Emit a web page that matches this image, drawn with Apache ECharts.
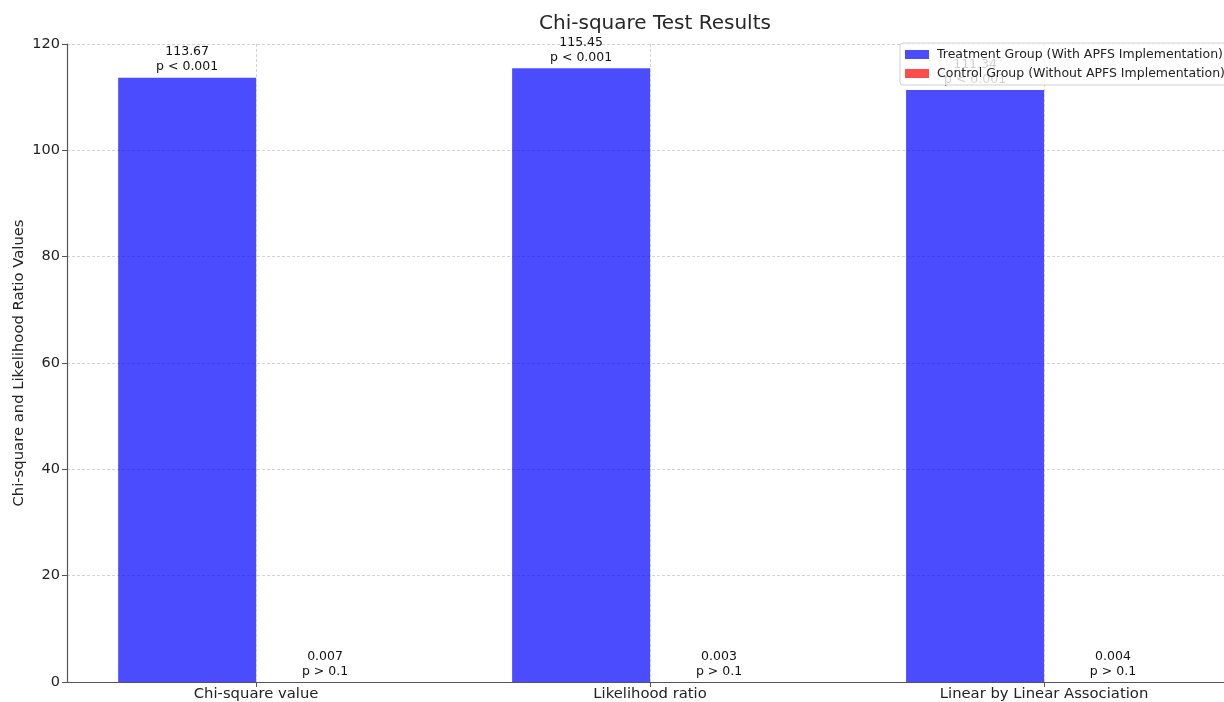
<!DOCTYPE html>
<html>
<head>
<meta charset="utf-8">
<script src="https://cdn.jsdelivr.net/npm/echarts@6/dist/echarts.min.js"></script>
<style>
  html, body { margin: 0; padding: 0; background: #fff; }
  #chart { width: 1224px; height: 702px; }
</style>
</head>
<body>
<div id="chart"></div>
<script>
// Test categories and statistic values
const categories = ['Chi-square value', 'Likelihood ratio', 'Linear by Linear Association'];
const treatmentValues = [113.67, 115.45, 111.34];
const controlValues = [0.007, 0.003, 0.004];
const treatmentP = ['p < 0.001', 'p < 0.001', 'p < 0.001'];
const controlP = ['p > 0.1', 'p > 0.1', 'p > 0.1'];
const yTicks = [0, 20, 40, 60, 80, 100, 120];

const seriesNames = [
  'Treatment Group (With APFS Implementation)',
  'Control Group (Without APFS Implementation)'
];
const halfBar = 0.175; // half of the 0.35 bar width, in category units
const font = 'DejaVu Sans, sans-serif';

function barData(values, pLabels, offset) {
  return values.map((v, i) => ({
    value: [i + offset, v],
    label: { formatter: v + '\n' + pLabels[i] }
  }));
}

const chart = echarts.init(document.getElementById('chart'));
chart.setOption({
  animation: false,
  backgroundColor: '#fff',
  textStyle: { fontFamily: font },
  title: {
    text: 'Chi-square Test Results',
    left: 650, top: 9,
    textAlign: 'center',
    textStyle: { fontFamily: font, fontSize: 20, fontWeight: 'normal', color: '#262626' }
  },
  legend: {
    data: seriesNames,
    orient: 'vertical',
    left: 900, top: 43,
    itemWidth: 24, itemHeight: 9, itemGap: 6,
    padding: [5, 6, 5, 5],
    icon: 'rect',
    backgroundColor: 'rgba(255,255,255,0.8)',
    borderColor: '#d0d0d0', borderWidth: 1, borderRadius: 3,
    textStyle: { fontFamily: font, fontSize: 12.5, color: '#222', padding: [0, 0, 0, 3] },
    z: 10
  },
  grid: { left: 67, right: 0, top: 44, bottom: 19, containLabel: false },
  xAxis: {
    type: 'value',
    min: -0.48, max: 2 + 180 / 394,
    axisLine: { show: true, onZero: false, lineStyle: { color: '#555', width: 1.2 } },
    axisTick: { show: true, customValues: [0, 1, 2], length: 5, lineStyle: { color: '#555' } },
    axisLabel: {
      customValues: [0, 1, 2],
      formatter: v => categories[Math.round(v)],
      fontFamily: font, fontSize: 14.8, color: '#222', margin: 5
    },
    splitLine: { show: false }
  },
  yAxis: {
    type: 'value',
    min: yTicks[0], max: yTicks[yTicks.length - 1], interval: 20,
    name: 'Chi-square and Likelihood Ratio Values',
    nameLocation: 'middle', nameGap: 40, nameMoveOverlap: false,
    nameTextStyle: { fontFamily: font, fontSize: 14.8, color: '#222' },
    axisLine: { show: true, onZero: false, lineStyle: { color: '#555', width: 1.2 } },
    axisTick: { show: true, length: 5, lineStyle: { color: '#555' } },
    axisLabel: { fontFamily: font, fontSize: 14.5, color: '#222', margin: 7 },
    splitLine: { show: true, lineStyle: { color: '#c8c8c8', type: [3, 2], width: 0.8 } }
  },
  series: [
    {
      // vertical grid lines at the category positions
      type: 'line', data: [], z: 1, silent: true,
      markLine: {
        symbol: 'none', silent: true, label: { show: false },
        lineStyle: { color: '#c8c8c8', type: [3, 2], width: 0.8 },
        data: categories.map((c, i) => ({ xAxis: i }))
      }
    },
    {
      name: seriesNames[0],
      type: 'bar',
      barWidth: 138, barGap: '-100%',
      itemStyle: { color: 'rgba(0,0,255,0.7)' },
      data: barData(treatmentValues, treatmentP, -halfBar),
      label: {
        show: true, position: 'top', distance: 3,
        fontFamily: font, fontSize: 12.5, color: '#111', lineHeight: 15, align: 'center'
      },
      z: 2
    },
    {
      name: seriesNames[1],
      type: 'bar',
      barWidth: 138, barGap: '-100%',
      itemStyle: { color: 'rgba(255,0,0,0.7)' },
      data: barData(controlValues, controlP, halfBar),
      label: {
        show: true, position: 'top', distance: 3,
        fontFamily: font, fontSize: 12.5, color: '#111', lineHeight: 15, align: 'center'
      },
      z: 2
    }
  ]
});
</script>
</body>
</html>
